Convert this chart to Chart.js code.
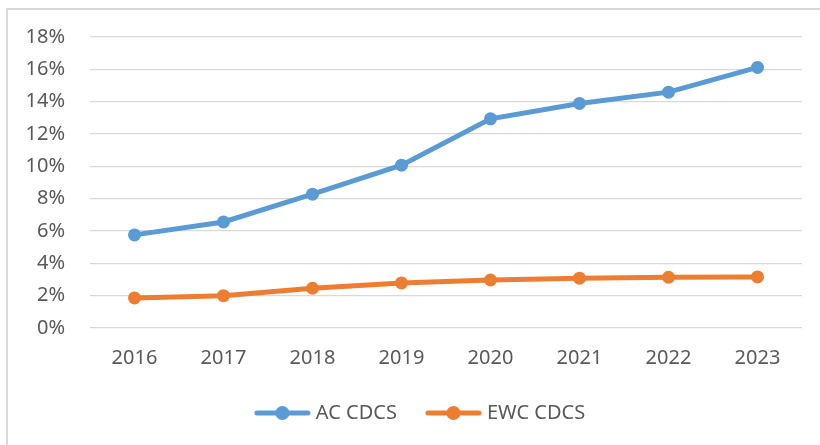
<!DOCTYPE html>
<html lang="en">
  <head>
    <meta charset="UTF-8" />
    <title>AC CDCS vs EWC CDCS</title>
    <script src="https://cdn.jsdelivr.net/npm/chart.js@4.4.0/dist/chart.umd.min.js"></script>
    <style>
      body { margin: 0; background: #fff; }
      #wrap { position: relative; width: 820px; height: 445px; overflow: hidden; }
      #frame {
        position: absolute; left: 6px; top: 8px; width: 900px; height: 500px;
        border-left: 2px solid #d9d9d9; border-top: 2px solid #d9d9d9;
      }
      #myChart { position: absolute; left: 0; top: 0; }
    </style>
  </head>
  <body>
    <div id="wrap">
      <div id="frame"></div>
      <canvas id="myChart" width="820" height="445"></canvas>
    </div>
    <script>
      // values, in percent
      const years = ["2016", "2017", "2018", "2019", "2020", "2021", "2022", "2023"];
      const acCdcs = [5.76, 6.56, 8.28, 10.07, 12.94, 13.89, 14.59, 16.12];
      const ewcCdcs = [1.86, 2.0, 2.46, 2.79, 2.97, 3.08, 3.14, 3.16];
      const yMax = 18;
      const yStep = 2;

      const blue = "#5b9bd5";
      const orange = "#ed7d31";
      const textColor = "#595959";
      const fontFamily = "'Noto Sans', 'DejaVu Sans', sans-serif";

      // legend marker: a short line with a dot in the middle, like Excel
      function legendMarker(color) {
        const c = document.createElement("canvas");
        c.width = 57;
        c.height = 16;
        const g = c.getContext("2d");
        g.strokeStyle = color;
        g.lineWidth = 5;
        g.lineCap = "round";
        g.beginPath();
        g.moveTo(3, 8);
        g.lineTo(54, 8);
        g.stroke();
        g.fillStyle = color;
        g.beginPath();
        g.arc(28.5, 8, 7, 0, Math.PI * 2);
        g.fill();
        return c;
      }
      const markers = [legendMarker(blue), legendMarker(orange)];

      // Excel centres the legend a bit right of the canvas centre
      const legendShift = {
        id: "legendShift",
        afterLayout(chart) {
          chart.legend.left += 21;
          chart.legend.right += 21;
        },
      };

      const ctx = document.getElementById("myChart").getContext("2d");
      new Chart(ctx, {
        type: "line",
        data: {
          labels: years,
          datasets: [
            {
              label: "AC CDCS",
              data: acCdcs,
              borderColor: blue,
              backgroundColor: blue,
              borderWidth: 5,
              pointRadius: 6.5,
              pointHoverRadius: 6.5,
              pointBorderWidth: 0,
              fill: false,
            },
            {
              label: "EWC CDCS",
              data: ewcCdcs,
              borderColor: orange,
              backgroundColor: orange,
              borderWidth: 5,
              pointRadius: 6.5,
              pointHoverRadius: 6.5,
              pointBorderWidth: 0,
              fill: false,
            },
          ],
        },
        options: {
          responsive: false,
          animation: false,
          devicePixelRatio: 1,
          layout: { padding: { top: 36, right: 18, left: 0, bottom: 12 } },
          scales: {
            x: {
              offset: true,
              grid: { display: false, drawTicks: false },
              border: { display: false },
              afterFit: (scale) => { scale.height = 42; },
              ticks: {
                padding: 18,
                maxRotation: 0,
                color: textColor,
                font: { family: fontFamily, size: 20 },
              },
            },
            y: {
              min: 0,
              max: yMax,
              border: { display: false },
              grid: { color: "#d9d9d9", lineWidth: 1.3, drawTicks: false },
              afterFit: (scale) => { scale.width = 90; },
              ticks: {
                stepSize: yStep,
                padding: 25,
                color: textColor,
                font: { family: fontFamily, size: 20 },
                callback: (value) => value + "%",
              },
            },
          },
          plugins: {
            tooltip: { enabled: false },
            legend: {
              position: "bottom",
              labels: {
                usePointStyle: true,
                pointStyleWidth: 47,
                padding: 33,
                color: textColor,
                font: { family: fontFamily, size: 20 },
                generateLabels: (chart) => {
                  const items = Chart.defaults.plugins.legend.labels.generateLabels(chart);
                  items.forEach((item, i) => { item.pointStyle = markers[i]; });
                  return items;
                },
              },
            },
          },
        },
        plugins: [legendShift],
      });
    </script>
  </body>
</html>
